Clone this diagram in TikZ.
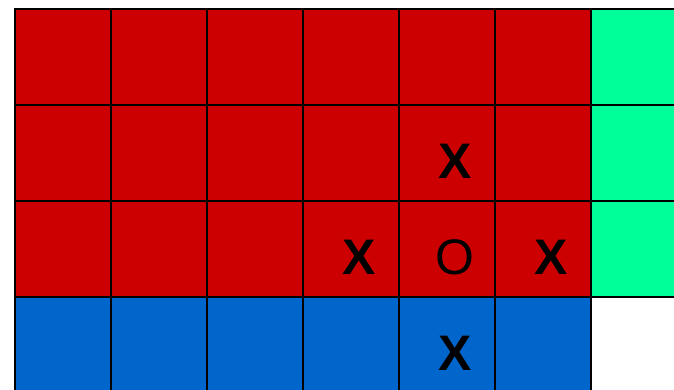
\documentclass[tikz,border=0pt]{standalone}
\usepackage{fontspec}
\setmainfont{Liberation Sans}
\definecolor{boardred}{HTML}{CC0000}
\definecolor{boardgreen}{HTML}{00FF99}
\definecolor{boardblue}{HTML}{0066CC}

\begin{document}
\begin{tikzpicture}[
  cell/.style={draw=black, line width=0.6pt, minimum size=1cm, inner sep=0pt, anchor=north west},
  redcell/.style={cell, fill=boardred},
  greencell/.style={cell, fill=boardgreen},
  bluecell/.style={cell, fill=boardblue},
  piece/.style={font=\fontsize{14.8}{16}\selectfont, inner sep=0pt, xshift=0.083cm, yshift=-0.083cm}
]
\useasboundingbox (0,0) rectangle (7.0208,-4.0521);
\clip (0,0) rectangle (7.0208,-4.0521);

\begin{scope}[shift={(0.1458,-0.0833)}]
  % red block and green column
  \foreach \r in {0,1,2} {
    \foreach \c in {0,...,5}
      \node[redcell] (r\r c\c) at (\c,-\r) {};
    \node[greencell] (r\r c6) at (6,-\r) {};
  }
  % blue row
  \foreach \c in {0,...,5}
    \node[bluecell] (r3c\c) at (\c,-3) {};

  % pieces
  \node[piece] (xtop) at (r1c4.center) {\bfseries X};
  \node[piece] (xleft) at (r2c3.center) {\bfseries X};
  \node[piece] (ocenter) at (r2c4.center) {O};
  \node[piece] (xright) at (r2c5.center) {\bfseries X};
  \node[piece] (xbottom) at (r3c4.center) {\bfseries X};
\end{scope}
\end{tikzpicture}
\end{document}
